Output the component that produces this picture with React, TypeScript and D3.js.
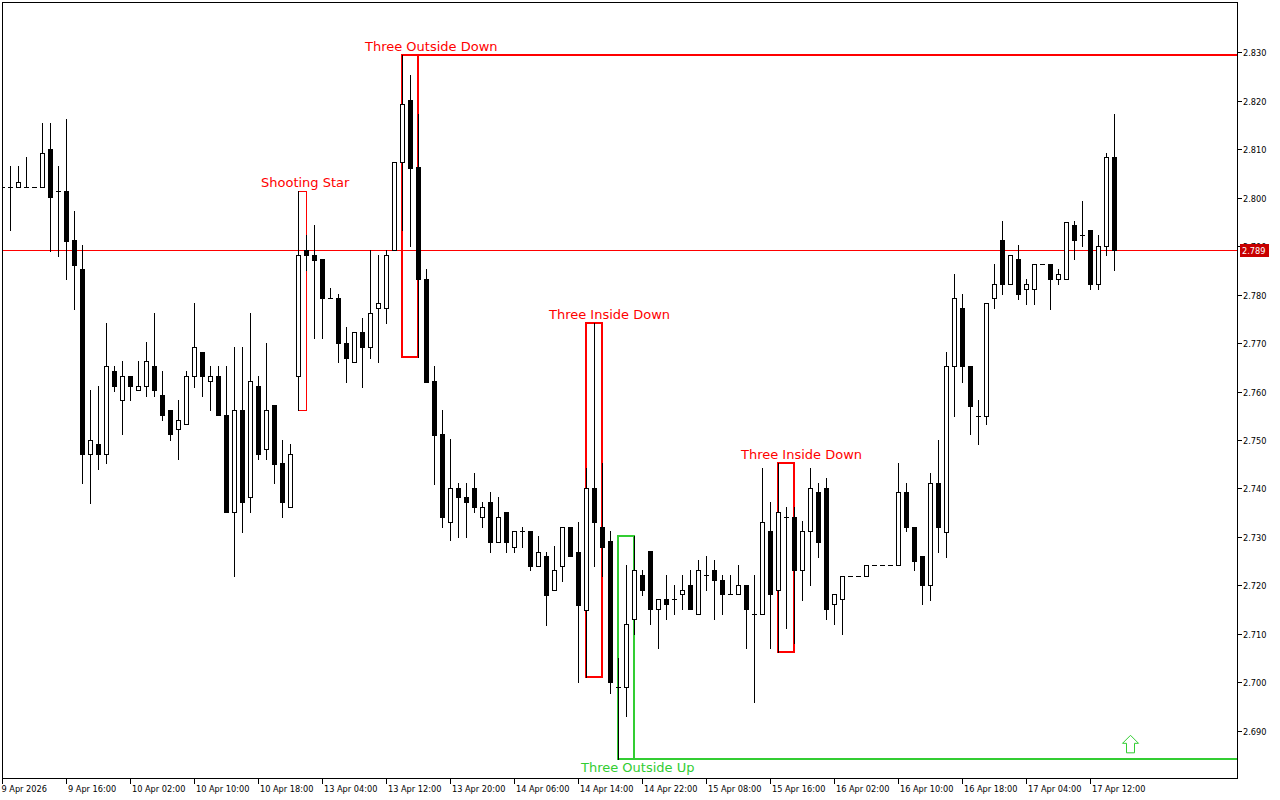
import React from "react";
import * as d3 from "d3";

// ---- Data (H1 candles) ----
const opens = [
  2.8021, 2.8021, 2.8021, 2.8021, 2.8021, 2.8021, 2.8101, 2.8013, 2.8013, 2.7912,
  2.7852, 2.7471, 2.7492, 2.7471, 2.7642, 2.7582, 2.7631, 2.7603, 2.7611, 2.7652,
  2.7592, 2.7561, 2.7522, 2.7532, 2.7631, 2.7681, 2.7621, 2.7631, 2.7551, 2.7351,
  2.7561, 2.7382, 2.7611, 2.7481, 2.7572, 2.7452, 2.7361, 2.7631, 2.7891, 2.7881,
  2.7873, 2.7792, 2.7792, 2.7701, 2.7660, 2.7722, 2.7691, 2.7772, 2.7772, 2.7891,
  2.8073, 2.8202, 2.8063, 2.7831, 2.7622, 2.7512, 2.7330, 2.7400, 2.7382, 2.7400,
  2.7341, 2.7372, 2.7290, 2.7351, 2.7280, 2.7312, 2.7312, 2.7241, 2.7260, 2.7190,
  2.7241, 2.7321, 2.7270, 2.7150, 2.7400, 2.7321, 2.7291, 2.6990, 2.6990, 2.7130,
  2.7222, 2.7271, 2.7151, 2.7172, 2.7172, 2.7182, 2.7201, 2.7141, 2.7222, 2.7232,
  2.7211, 2.7182, 2.7182, 2.7201, 2.7141, 2.7141, 2.7312, 2.7190, 2.7341, 2.7341,
  2.7231, 2.7312, 2.7392, 2.7400, 2.7161, 2.7172, 2.7220, 2.7220, 2.7220, 2.7242,
  2.7242, 2.7242, 2.7242, 2.7392, 2.7321, 2.7260, 2.7200, 2.7411, 2.7311, 2.7652,
  2.7772, 2.7653, 2.7550, 2.7550, 2.7792, 2.7912, 2.7821, 2.7873, 2.7811, 2.7811,
  2.7862, 2.7862, 2.7831, 2.7831, 2.7943, 2.7923, 2.7933, 2.7821, 2.7901, 2.8083,
];
const highs = [
  2.8021, 2.8064, 2.8064, 2.8084, 2.8021, 2.8154, 2.8154, 2.8064, 2.8162, 2.7972,
  2.7902, 2.7603, 2.7611, 2.7741, 2.7652, 2.7662, 2.7631, 2.7662, 2.7702, 2.7762,
  2.7642, 2.7561, 2.7582, 2.7642, 2.7782, 2.7681, 2.7653, 2.7653, 2.7653, 2.7691,
  2.7691, 2.7761, 2.7631, 2.7701, 2.7572, 2.7501, 2.7491, 2.8013, 2.7923, 2.7943,
  2.7873, 2.7813, 2.7802, 2.7732, 2.7722, 2.7751, 2.7891, 2.7881, 2.7891, 2.8073,
  2.8294, 2.8253, 2.8172, 2.7852, 2.7653, 2.7562, 2.7503, 2.7411, 2.7411, 2.7431,
  2.7372, 2.7392, 2.7382, 2.7351, 2.7312, 2.7321, 2.7312, 2.7302, 2.7270, 2.7281,
  2.7321, 2.7321, 2.7330, 2.7442, 2.7741, 2.7452, 2.7312, 2.7050, 2.7242, 2.7302,
  2.7232, 2.7271, 2.7172, 2.7222, 2.7201, 2.7222, 2.7232, 2.7253, 2.7261, 2.7253,
  2.7222, 2.7222, 2.7242, 2.7201, 2.7222, 2.7442, 2.7372, 2.7452, 2.7362, 2.7362,
  2.7332, 2.7442, 2.7412, 2.7421, 2.7182, 2.7220, 2.7220, 2.7220, 2.7242, 2.7242,
  2.7242, 2.7242, 2.7452, 2.7411, 2.7321, 2.7260, 2.7431, 2.7501, 2.7681, 2.7842,
  2.7802, 2.7653, 2.7582, 2.7782, 2.7863, 2.7952, 2.7881, 2.7902, 2.7832, 2.7862,
  2.7862, 2.7862, 2.7852, 2.7950, 2.7952, 2.7993, 2.7933, 2.7923, 2.8092, 2.8172,
];
const lows = [
  2.8021, 2.7932, 2.8021, 2.8021, 2.8021, 2.8021, 2.7890, 2.7880, 2.7831, 2.7771,
  2.7411, 2.7371, 2.7441, 2.7452, 2.7601, 2.7512, 2.7582, 2.7603, 2.7591, 2.7591,
  2.7541, 2.7501, 2.7461, 2.7532, 2.7610, 2.7591, 2.7561, 2.7551, 2.7351, 2.7220,
  2.7311, 2.7351, 2.7461, 2.7461, 2.7411, 2.7341, 2.7361, 2.7562, 2.7850, 2.7711,
  2.7711, 2.7792, 2.7661, 2.7620, 2.7660, 2.7610, 2.7670, 2.7661, 2.7741, 2.7891,
  2.7932, 2.7901, 2.7672, 2.7620, 2.7409, 2.7321, 2.7294, 2.7301, 2.7301, 2.7351,
  2.7321, 2.7269, 2.7290, 2.7269, 2.7269, 2.7280, 2.7231, 2.7241, 2.7119, 2.7190,
  2.7210, 2.7260, 2.7000, 2.7012, 2.7241, 2.7220, 2.6979, 2.6842, 2.6930, 2.7101,
  2.7180, 2.7121, 2.7071, 2.7130, 2.7141, 2.7151, 2.7151, 2.7141, 2.7191, 2.7130,
  2.7141, 2.7182, 2.7182, 2.7071, 2.6960, 2.7141, 2.7071, 2.7062, 2.7112, 2.7081,
  2.7170, 2.7200, 2.7259, 2.7130, 2.7120, 2.7101, 2.7220, 2.7220, 2.7220, 2.7242,
  2.7242, 2.7242, 2.7242, 2.7312, 2.7231, 2.7161, 2.7170, 2.7269, 2.7259, 2.7549,
  2.7620, 2.7512, 2.7491, 2.7532, 2.7772, 2.7801, 2.7821, 2.7791, 2.7781, 2.7781,
  2.7862, 2.7771, 2.7821, 2.7831, 2.7873, 2.7901, 2.7811, 2.7811, 2.7881, 2.7851,
];
const closes = [
  2.8021, 2.8021, 2.8031, 2.8021, 2.8021, 2.8091, 2.8002, 2.8013, 2.7911, 2.7861,
  2.7471, 2.7501, 2.7471, 2.7652, 2.7611, 2.7631, 2.7611, 2.7611, 2.7662, 2.7603,
  2.7551, 2.7512, 2.7541, 2.7631, 2.7691, 2.7631, 2.7631, 2.7551, 2.7351, 2.7561,
  2.7372, 2.7621, 2.7471, 2.7561, 2.7451, 2.7372, 2.7471, 2.7881, 2.7881, 2.7871,
  2.7792, 2.7792, 2.7701, 2.7670, 2.7722, 2.7691, 2.7761, 2.7782, 2.7881, 2.8073,
  2.8192, 2.8061, 2.7831, 2.7620, 2.7510, 2.7341, 2.7400, 2.7382, 2.7372, 2.7361,
  2.7361, 2.7290, 2.7341, 2.7290, 2.7312, 2.7312, 2.7241, 2.7270, 2.7181, 2.7231,
  2.7321, 2.7260, 2.7160, 2.7400, 2.7330, 2.7280, 2.7000, 2.6990, 2.7121, 2.7232,
  2.7191, 2.7151, 2.7172, 2.7161, 2.7172, 2.7191, 2.7151, 2.7232, 2.7222, 2.7211,
  2.7182, 2.7182, 2.7201, 2.7151, 2.7141, 2.7330, 2.7182, 2.7351, 2.7341, 2.7231,
  2.7312, 2.7400, 2.7290, 2.7151, 2.7182, 2.7220, 2.7220, 2.7220, 2.7242, 2.7242,
  2.7242, 2.7242, 2.7392, 2.7321, 2.7251, 2.7200, 2.7411, 2.7321, 2.7653, 2.7792,
  2.7652, 2.7571, 2.7550, 2.7782, 2.7821, 2.7821, 2.7881, 2.7802, 2.7821, 2.7862,
  2.7862, 2.7831, 2.7842, 2.7950, 2.7912, 2.7923, 2.7821, 2.7901, 2.8083, 2.7891,
];

const timeLabels = [
  "9 Apr 2026", "9 Apr 16:00", "10 Apr 02:00", "10 Apr 10:00", "10 Apr 18:00",
  "13 Apr 04:00", "13 Apr 12:00", "13 Apr 20:00", "14 Apr 06:00", "14 Apr 14:00",
  "14 Apr 22:00", "15 Apr 08:00", "15 Apr 16:00", "16 Apr 02:00", "16 Apr 10:00",
  "16 Apr 18:00", "17 Apr 04:00", "17 Apr 12:00",
];
const barsPerTimeLabel = 8;
const priceTicks = [2.69, 2.7, 2.71, 2.72, 2.73, 2.74, 2.75, 2.76, 2.77, 2.78, 2.79, 2.8, 2.81, 2.82, 2.83];

const patternNames = ["Shooting Star", "Three Outside Down", "Three Inside Down", "Three Outside Up", "Three Inside Down"];
const patternStart = [37, 50, 73, 77, 97];
const patternEnd = [38, 52, 75, 79, 99];
const patternBullish = [false, false, false, true, false];
const patternExtend = [false, true, false, true, false];

const bidPrice = 2.789;
const arrowBar = 141;
const arrowPrice = 2.6855;

const RED = "#ff0000";
const GREEN = "#32cd32";
const FONT = "'DejaVu Sans', Verdana, sans-serif";

export default function App() {
  const W = 1280;
  const H = 800;
  const plotL = 2, plotT = 2, plotR = 1238, plotB = 778;

  const x = d3.scaleLinear().domain([0, closes.length - 1]).range([2, 1114]);
  const y = d3.scaleLinear().domain([2.69, 2.83]).range([731, 52]);
  const px = (i: number) => Math.round(x(i));
  const py = (p: number) => Math.round(y(p));
  const fmt = d3.format(".3f");

  const candles = closes.map((c, i) => {
    const cx = px(i);
    const o = opens[i];
    const yH = py(highs[i]);
    const yL = py(lows[i]);
    const yTop = py(Math.max(o, c));
    const yBot = py(Math.min(o, c));
    const bull = c > o;
    const flat = yBot - yTop < 1;
    return (
      <g key={i}>
        {yL > yH && (
          <line x1={cx + 0.5} x2={cx + 0.5} y1={yH} y2={yL + 1} stroke="#000" strokeWidth={1} />
        )}
        {flat ? (
          <line x1={cx - 2} x2={cx + 3} y1={yTop + 0.5} y2={yTop + 0.5} stroke="#000" strokeWidth={1} />
        ) : (
          <rect
            x={cx - 1.5}
            y={yTop + 0.5}
            width={4}
            height={yBot - yTop}
            fill={bull ? "#fff" : "#000"}
            stroke="#000"
            strokeWidth={1}
          />
        )}
      </g>
    );
  });

  const patterns = patternNames.map((name, k) => {
    const s = patternStart[k];
    const e = patternEnd[k];
    const hi = d3.max(highs.slice(s, e + 1)) as number;
    const lo = d3.min(lows.slice(s, e + 1)) as number;
    const color = patternBullish[k] ? GREEN : RED;
    const sw = e - s >= 2 ? 2 : 1;
    const off = sw === 1 ? 0.5 : 0;
    const x0 = px(s) + off;
    const x1 = px(e) + off;
    const yT = py(hi) + off;
    const yB = py(lo) + off;
    const tx = px(s) - 37;
    const ty = patternBullish[k] ? py(lo) + 13 : py(hi) - 4;
    return (
      <g key={k}>
        <rect x={x0} y={yT} width={x1 - x0} height={yB - yT} fill="none" stroke={color} strokeWidth={sw} />
        {patternExtend[k] && (
          <line
            x1={x1}
            x2={plotR}
            y1={patternBullish[k] ? yB : yT}
            y2={patternBullish[k] ? yB : yT}
            stroke={color}
            strokeWidth={sw}
          />
        )}
        <text x={tx} y={ty} fill={color} fontSize={13} fontFamily={FONT}>
          {name}
        </text>
      </g>
    );
  });

  const bidY = Math.floor(y(bidPrice)) + 0.5;

  const ax = x(arrowBar) + 0.5;
  const ay = y(arrowPrice);
  const arrowPath = [
    [0, -17.5], [8, -9.5], [4, -9.5], [4, 0], [-4, 0], [-4, -9.5], [-8, -9.5],
  ]
    .map((p, i) => `${i ? "L" : "M"}${ax + p[0]},${ay + p[1]}`)
    .join("") + "Z";

  return (
    <div style={{ position: "absolute", left: 0, top: 0, width: W, height: H, background: "#fff" }}>
      <svg width={W} height={H} style={{ display: "block" }}>
        <defs>
          <clipPath id="plot">
            <rect x={plotL + 1} y={plotT + 1} width={plotR - plotL - 1} height={plotB - plotT - 1} />
          </clipPath>
        </defs>
        <rect x={0} y={0} width={W} height={H} fill="#fff" />
        <g clipPath="url(#plot)">
          <line x1={plotL} x2={plotR} y1={bidY} y2={bidY} stroke={RED} strokeWidth={1} />
          {patterns}
          {candles}
          <path d={arrowPath} fill="#fff" stroke={GREEN} strokeWidth={1} />
        </g>
        <rect x={plotL + 0.5} y={plotT + 0.5} width={plotR - plotL - 1} height={plotB - plotT} fill="none" stroke="#000" strokeWidth={1} />

        {/* price axis */}
        {priceTicks.map((p) => {
          const ty = py(p) + 0.5;
          return (
            <g key={p}>
              <line x1={plotR - 1} x2={plotR + 4} y1={ty} y2={ty} stroke="#000" strokeWidth={1} />
              <text x={plotR + 5} y={ty + 3} fontSize={8.2} fontFamily={FONT} fill="#000">
                {fmt(p)}
              </text>
            </g>
          );
        })}
        <rect x={1240} y={bidY - 6.5} width={29} height={13} fill="#c80000" />
        <text x={1242} y={bidY + 3} fontSize={8.2} fontFamily={FONT} fill="#fff">
          {fmt(bidPrice)}
        </text>

        {/* time axis */}
        {timeLabels.map((lab, k) => {
          const cx = px(k * barsPerTimeLabel) + 0.5;
          return (
            <g key={lab}>
              <line x1={cx} x2={cx} y1={plotB} y2={plotB + 6} stroke="#000" strokeWidth={1} />
              <text x={k === 0 ? cx - 1 : cx + 1.5} y={plotB + 14} fontSize={8.2} fontFamily={FONT} fill="#000">
                {lab}
              </text>
            </g>
          );
        })}
      </svg>
    </div>
  );
}
